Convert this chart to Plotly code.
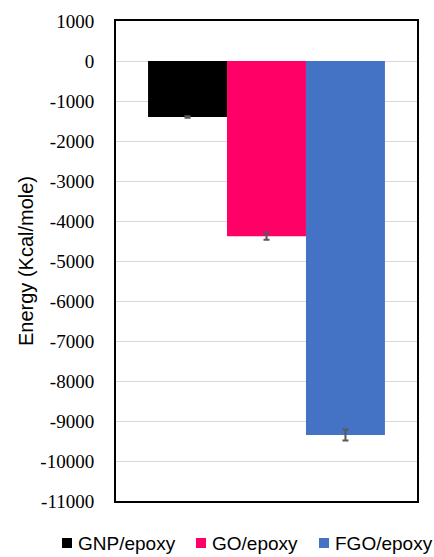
import plotly.graph_objects as go

# Interaction energy of each nanofiller with the epoxy matrix
series = ["GNP/epoxy", "GO/epoxy", "FGO/epoxy"]
energy = [-1400, -4380, -9350]
energy_err = [20, 90, 140]
colors = ["#000000", "#FF0066", "#4472C4"]
category = ["Interaction"]

y_ticks = list(range(1000, -12000, -1000))

W, H = 434, 557
L, R, T, B = 116, 17, 21, 56
PW, PH = W - L - R, H - T - B
SANS = "Liberation Sans, Arial, sans-serif"
SERIF = "Liberation Serif, Times New Roman, serif"


def px_x(px):
    return (px - L) / PW


def px_y(py):
    return (H - B - py) / PH


fig = go.Figure()
for name, val, err, col in zip(series, energy, energy_err, colors):
    fig.add_trace(go.Bar(
        x=category, y=[val], name=name,
        marker=dict(color=col, line=dict(width=0)),
        error_y=dict(type="data", array=[err], color="#595959", thickness=2, width=3),
        showlegend=False,
    ))

# Legend row below the plot: colour swatch followed by series name
legend_x = [62, 196, 319]
for name, col, lx in zip(series, colors, legend_x):
    fig.add_shape(type="rect", xref="paper", yref="paper",
                  x0=px_x(lx), x1=px_x(lx + 10), y0=px_y(548), y1=px_y(538),
                  fillcolor=col, line=dict(width=0))
    fig.add_annotation(text=name, xref="paper", yref="paper",
                       x=px_x(lx + 14), y=px_y(543), xanchor="left", yanchor="middle",
                       showarrow=False,
                       font=dict(family=SANS, size=19, color="#000000"))

fig.update_layout(
    width=W, height=H,
    margin=dict(l=L, r=R, t=T, b=B),
    paper_bgcolor="white", plot_bgcolor="white",
    font=dict(family=SERIF, size=19, color="#000000"),
    barmode="group", bargap=0.213, bargroupgap=0,
    showlegend=False,
)
fig.update_xaxes(
    range=[-0.5, 0.5], showticklabels=False, ticks="",
    showline=True, linecolor="#000000", linewidth=2, mirror=True,
    showgrid=False, zeroline=False, automargin=False,
)
fig.update_yaxes(
    range=[-11000, 1000], tickvals=y_ticks, ticktext=[str(v) for v in y_ticks],
    tickfont=dict(family=SERIF, size=19, color="#000000"),
    ticklabelstandoff=16,
    title=dict(text="Energy (Kcal/mole)", standoff=1,
               font=dict(family=SANS, size=20, color="#000000")),
    showline=True, linecolor="#000000", linewidth=2, mirror=True,
    showgrid=True, gridcolor="#D9D9D9", gridwidth=1,
    zeroline=False, ticks="", automargin=False,
)

fig.write_html("out.html")
